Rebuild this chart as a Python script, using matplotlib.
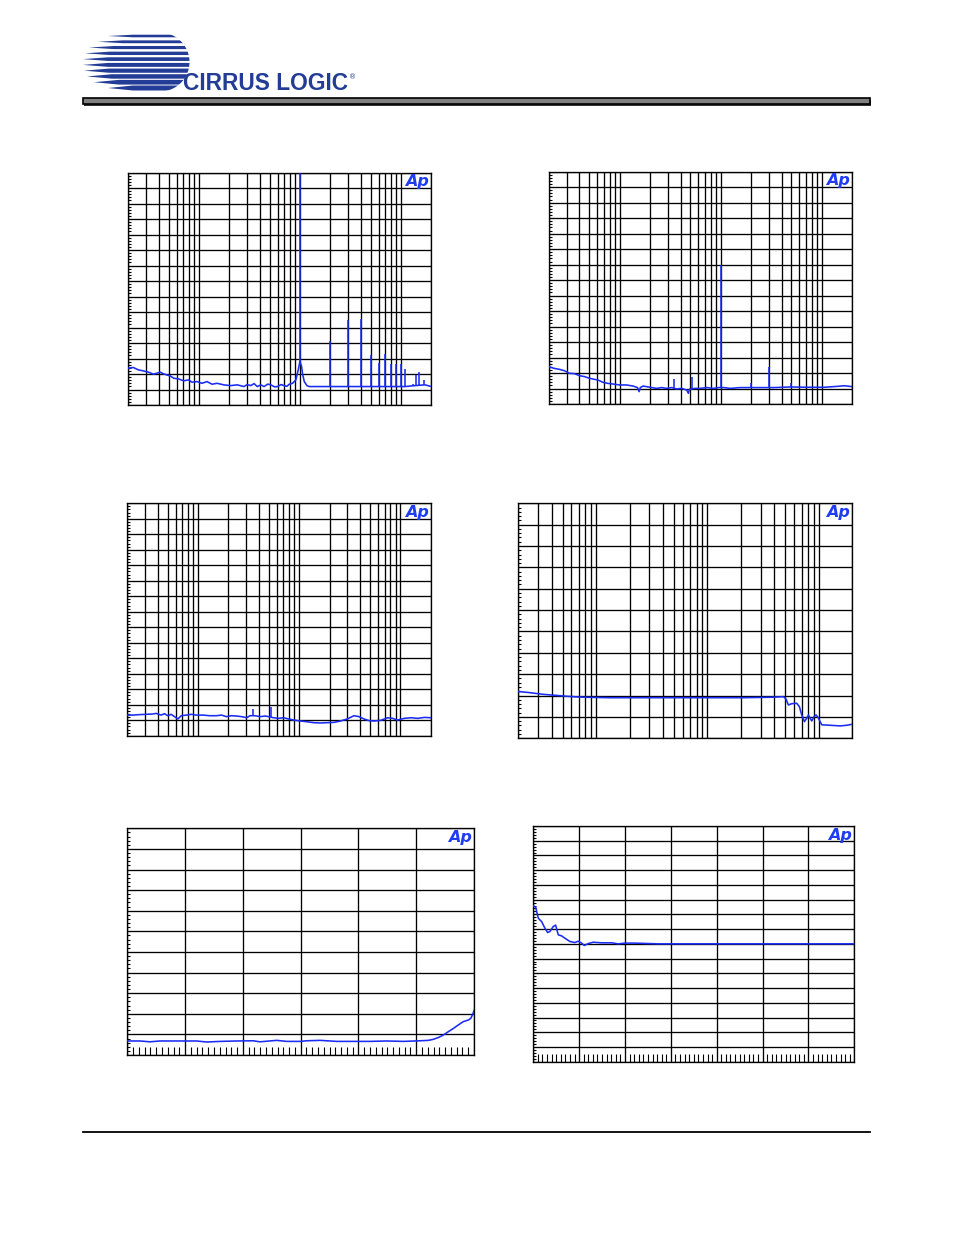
import numpy as np
import matplotlib
matplotlib.use('Agg')
import matplotlib.pyplot as plt
from matplotlib.patches import Polygon, Rectangle
from matplotlib.ticker import MultipleLocator, LogLocator, NullFormatter
from matplotlib import font_manager as fm

# ---------------- data ----------------
# Chart 1: FFT, 0 dBFS 1 kHz
fft1_freq = [20, 22.4, 25.1, 28.2, 31.6, 35.5, 38.3, 41.3, 44.6, 48.1, 52.0, 56.1, 62.9, 70.5,
             79.1, 85.3, 95.7, 107, 120, 135, 151, 176, 205, 239, 279, 300, 325, 351, 378, 410,
             441, 480, 514, 560, 599, 650, 697, 740, 782, 844, 910, 961, 998, 1035, 1061, 1102,
             1172, 1236, 1615, 2366, 3467, 5079, 7430, 10900, 13700, 17220, 20000]
fft1_db = [-126.2, -125.8, -127.3, -128.0, -128.8, -130.1, -129.5, -128.8, -129.9, -130.6, -131.2,
           -132.7, -133.2, -134.4, -133.8, -135.3, -134.9, -136.0, -134.9, -136.6, -136.0, -137.0,
           -137.5, -137.0, -138.1, -136.8, -137.5, -136.2, -138.1, -137.0, -138.1, -136.5, -137.0,
           -138.3, -138.1, -136.8, -137.5, -138.0, -136.6, -136.0, -133.8, -127.3, -121.9, -125.0,
           -130.0, -134.9, -137.5, -138.1, -138.1, -138.1, -138.1, -138.1, -138.1, -138.1, -137.5,
           -137.0, -138.1]
fft1_spike_f = [1000, 2000, 3000, 4000, 5000, 6000, 7000, 8000, 9000, 10000, 11000, 13000, 14000,
                15000, 17000]
fft1_spike_db = [0, -109, -95, -94.3, -117.6, -123, -117, -123.7, -123.7, -123.7, -126.7, -136.6,
                 -130.6, -129, -133.8]

# Chart 2: FFT, -60 dBFS 1 kHz
fft2_freq = [20, 22.5, 25.3, 28.4, 31.8, 35.7, 40.0, 44.8, 50.3, 56.4, 60.9, 68.3, 76.5, 85.8, 100,
             116.5, 135.7, 150, 155.7, 160, 170.8, 198.9, 231.6, 259.8, 291.2, 326.6, 366, 410.8,
             460.5, 478.3, 490, 557, 625, 728, 848, 951, 1067, 1243, 1563, 2291, 3357, 4920, 7200,
             10550, 14320, 16670, 20000]
fft2_db = [-125.9, -127.0, -127.6, -128.5, -130.2, -130.4, -131.7, -132.3, -133.4, -134.1, -134.5,
           -136.0, -136.7, -137.1, -137.7, -137.7, -138.4, -139.4, -142.0, -139.4, -138.4, -139.2,
           -139.9, -139.4, -139.9, -139.4, -140.3, -139.9, -141.0, -143.1, -140.5, -139.9, -139.9,
           -139.4, -139.9, -139.4, -139.4, -139.9, -139.4, -139.4, -139.4, -139.0, -139.2, -139.2,
           -138.6, -138.2, -138.8]
fft2_spike_f = [345, 516, 1000, 2000, 3000, 5000]
fft2_spike_db = [-133.9, -132.6, -60, -136.7, -125.9, -136.7]

# Chart 3: idle channel noise FFT
fft3_freq = [20, 22.5, 26.3, 30.6, 35.7, 38.5, 43.2, 46.6, 50.3, 54.3, 58.6, 63.2, 68.3, 76.5, 85.8,
             96.2, 112.1, 130.7, 152.2, 170.8, 191.4, 214.6, 240.6, 269.8, 302.6, 326.6, 366.3,
             410.8, 460.5, 497.2, 557.3, 625.2, 701.3, 786.3, 881.6, 1027, 1197, 1394, 1624, 1892,
             2204, 2568, 2992, 3485, 3909, 4385, 4915, 5510, 6420, 7480, 8390, 9400, 10960, 12770,
             14870, 17330, 20000]
fft3_db = [-136.7, -136.7, -136.4, -136.2, -136.0, -135.6, -136.7, -135.8, -137.1, -136.2, -137.7,
           -139.2, -137.1, -136.7, -136.2, -136.7, -136.7, -137.1, -137.1, -136.7, -137.7, -137.1,
           -137.3, -137.7, -138.4, -137.1, -137.1, -137.7, -137.3, -137.7, -138.4, -138.8, -138.4,
           -139.2, -139.9, -140.5, -141.0, -141.6, -141.8, -141.6, -141.4, -140.5, -139.2, -137.1,
           -137.7, -139.2, -140.3, -140.5, -140.1, -138.4, -138.8, -139.9, -138.8, -138.4, -138.8,
           -138.2, -138.4]
fft3_spike_f = [347, 525]
fft3_spike_db = [-132.8, -131.3]

# Chart 4: frequency response
fr_freq = [20, 25.1, 33.1, 43.6, 53.7, 66.1, 81.3, 131.9, 263.3, 525.7, 1050, 2095, 3644, 4485,
           4806, 5077, 5331, 5713, 6337, 6697, 7029, 7429, 7798, 8073, 8357, 8650, 9078, 9464,
           9862, 10280, 10640, 12650, 15560, 17870, 20000]
fr_db = [-7.81, -7.86, -7.94, -7.99, -8.03, -8.06, -8.08, -8.10, -8.10, -8.10, -8.10, -8.10, -8.08,
         -8.06, -8.05, -8.16, -8.44, -8.38, -8.36, -8.52, -8.91, -9.22, -9.06, -8.91, -9.06, -9.19,
         -8.98, -8.91, -9.03, -9.22, -9.37, -9.39, -9.42, -9.39, -9.34]

# Chart 5: linear sweep
lin5_x = [-120, -115.6, -112.2, -108.7, -101.8, -96.0, -92.5, -87.9, -82.1, -76.4, -74.1, -68.3,
          -64.8, -60.2, -57.9, -53.3, -47.5, -41.8, -36.0, -30.2, -24.4, -18.7, -15.8, -14.1,
          -12.3, -10.6, -8.9, -7.1, -5.4, -3.7, -1.9, -1.1, -0.4, 0]
lin5_y = [-123.2, -123.2, -123.6, -123.2, -123.2, -123.2, -123.7, -123.4, -123.2, -123.1, -123.6,
          -122.9, -123.4, -123.4, -123.1, -122.9, -123.4, -123.4, -123.4, -123.2, -123.4, -123.1,
          -122.9, -122.4, -121.5, -120.3, -118.7, -117.1, -115.4, -113.8, -113.0, -112.2, -110.1,
          -108.4]

# Chart 6: linear settling curve
lin6_x = [0, 0.051, 0.109, 0.182, 0.254, 0.3125, 0.363, 0.436, 0.487, 0.545, 0.618, 0.690, 0.799,
          0.908, 0.981, 1.054, 1.112, 1.199, 1.308, 1.490, 1.708, 1.853, 1.999, 2.217, 2.507,
          2.725, 7.0]
lin6_y = [0.258, 0.249, 0.174, 0.151, 0.106, 0.077, 0.084, 0.118, 0.127, 0.061, 0.054, 0.038,
          0.016, 0.009, 0.018, 0.005, -0.011, 0.002, 0.011, 0.007, 0.007, 0.0, 0.005, 0.005, 0.002,
          0.0, 0.0]

# ---------------- figure ----------------
W, H = 954, 1235
fig = plt.figure(figsize=(W / 100, H / 100), dpi=100)
TRACE = '#1a2cf5'
TRACE_LW = 1.15
GRID_LW = 0.95


def axes_px(x0, y0, x1, y1):
    return fig.add_axes([x0 / W, 1 - y1 / H, (x1 - x0) / W, (y1 - y0) / H])


def style_common(ax):
    for s in ax.spines.values():
        s.set_linewidth(GRID_LW)
        s.set_color('black')
    ax.xaxis.set_major_formatter(NullFormatter())
    ax.xaxis.set_minor_formatter(NullFormatter())
    ax.yaxis.set_major_formatter(NullFormatter())
    ax.yaxis.set_minor_formatter(NullFormatter())
    ax.text(0.993, 0.993, 'Ap', transform=ax.transAxes, ha='right', va='top',
            fontsize=11.5, fontweight='heavy', fontstyle='italic', color='#1f3cf5',
            family='DejaVu Sans', zorder=5)


def log_chart(rect, ylo, yhi, ymaj, ymin):
    ax = axes_px(*rect)
    ax.set_xscale('log')
    ax.set_xlim(20, 20000)
    ax.set_ylim(ylo, yhi)
    ax.xaxis.set_major_locator(LogLocator(base=10, numticks=10))
    ax.xaxis.set_minor_locator(LogLocator(base=10, subs=np.arange(2, 10), numticks=20))
    ax.yaxis.set_major_locator(MultipleLocator(ymaj))
    ax.yaxis.set_minor_locator(MultipleLocator(ymin))
    ax.grid(which='major', axis='both', color='black', lw=GRID_LW)
    ax.grid(which='minor', axis='x', color='black', lw=GRID_LW)
    ax.tick_params(axis='x', which='both', length=0)
    ax.tick_params(axis='y', which='major', length=0)
    ax.tick_params(axis='y', which='minor', direction='in', length=2.3, width=0.8,
                   left=True, right=False)
    style_common(ax)
    return ax


def lin_chart(rect, xlo, xhi, xmaj, xmin, ylo, yhi, ymaj, ymin):
    ax = axes_px(*rect)
    ax.set_xlim(xlo, xhi)
    ax.set_ylim(ylo, yhi)
    ax.xaxis.set_major_locator(MultipleLocator(xmaj))
    ax.xaxis.set_minor_locator(MultipleLocator(xmin))
    ax.yaxis.set_major_locator(MultipleLocator(ymaj))
    ax.yaxis.set_minor_locator(MultipleLocator(ymin))
    ax.grid(which='major', axis='both', color='black', lw=GRID_LW)
    ax.tick_params(axis='x', which='major', length=0)
    ax.tick_params(axis='x', which='minor', direction='in', length=6, width=0.8,
                   bottom=True, top=False)
    ax.tick_params(axis='y', which='major', length=0)
    ax.tick_params(axis='y', which='minor', direction='in', length=2.3, width=0.8,
                   left=True, right=False)
    style_common(ax)
    return ax


def fft_plot(ax, f, db, sf, sdb):
    ax.plot(f, db, color=TRACE, lw=TRACE_LW, zorder=3)
    base = np.interp(np.log10(sf), np.log10(f), db)
    ax.vlines(sf, base, sdb, color=TRACE, lw=TRACE_LW, zorder=3)


ax1 = log_chart((128.3, 172.5, 431.5, 405), -150, 0, 10, 2)
fft_plot(ax1, fft1_freq, fft1_db, fft1_spike_f, fft1_spike_db)

ax2 = log_chart((549, 171.7, 852.3, 404), -150, 0, 10, 2)
fft_plot(ax2, fft2_freq, fft2_db, fft2_spike_f, fft2_spike_db)

ax3 = log_chart((127.3, 503.3, 430.7, 735.7), -150, 0, 10, 2)
fft_plot(ax3, fft3_freq, fft3_db, fft3_spike_f, fft3_spike_db)

ax4 = log_chart((518.3, 503.3, 852.3, 738.3), -10, 1, 1, 0.2)
ax4.plot(fr_freq, fr_db, color=TRACE, lw=TRACE_LW, zorder=3)

ax5 = lin_chart((127.3, 828.3, 474, 1055), -120, 0, 20, 2, -130, -20, 10, 2)
ax5.plot(lin5_x, lin5_y, color=TRACE, lw=TRACE_LW, zorder=3)

ax6 = lin_chart((533.3, 826, 854.3, 1061.7), 0, 7, 1, 0.1, -0.8, 0.8, 0.1, 0.02)
ax6.plot(lin6_x, lin6_y, color=TRACE, lw=TRACE_LW, zorder=3)

# ---------------- page decorations ----------------
ov = fig.add_axes([0, 0, 1, 1], zorder=-1)
ov.set_xlim(0, W)
ov.set_ylim(H, 0)
ov.axis('off')

LOGO_BLUE = '#233c96'
cx, cy, r = 160, 62, 29.5
theta = np.linspace(-np.pi / 2, np.pi / 2, 80)
clip_pts = [(70, cy - r)] + [(cx + r * np.cos(t), cy + r * np.sin(t)) for t in theta] + [(70, cy + r)]
clip_patch = Polygon(clip_pts, closed=True, transform=ov.transData, facecolor='none', edgecolor='none')
ov.add_patch(clip_patch)
rows_y = np.linspace(36, 88, 10)
rows_x0 = [108, 98, 89, 85, 83, 83, 84, 87, 94, 108]
rows_h = np.linspace(1.3, 2.5, 10)
for yc, x0, h in zip(rows_y, rows_x0, rows_h):
    band = Polygon([(x0, yc), (x0 + 25, yc - h), (200, yc - h), (200, yc + h), (x0 + 25, yc + h)],
                   closed=True, facecolor=LOGO_BLUE, edgecolor='none')
    ov.add_patch(band)
    band.set_clip_path(clip_patch)

names = {f.name for f in fm.fontManager.ttflist}
logo_family = 'Liberation Sans Narrow' if 'Liberation Sans Narrow' in names else 'Liberation Sans'
logo_txt = ov.text(183, 90.5, 'CIRRUS LOGIC', fontsize=18, color=LOGO_BLUE,
                   family=logo_family, fontweight='bold', ha='left', va='baseline')
fig.canvas.draw()
bb = logo_txt.get_window_extent()
logo_txt.set_fontsize(18 * 165 / bb.width)
ov.text(349, 77, '®', fontsize=5, color=LOGO_BLUE, family='DejaVu Sans', ha='left', va='center')

# header bar with shadow
ov.add_patch(Rectangle((84.5, 99.5), 787, 6, facecolor='#333333', edgecolor='none'))
ov.add_patch(Rectangle((83, 98), 787, 6, facecolor='#808080', edgecolor='black', lw=1.2))
# footer line
ov.plot([83, 870], [1131.5, 1131.5], color='black', lw=1.3)

fig.savefig('out.png', dpi=100, facecolor='white')
